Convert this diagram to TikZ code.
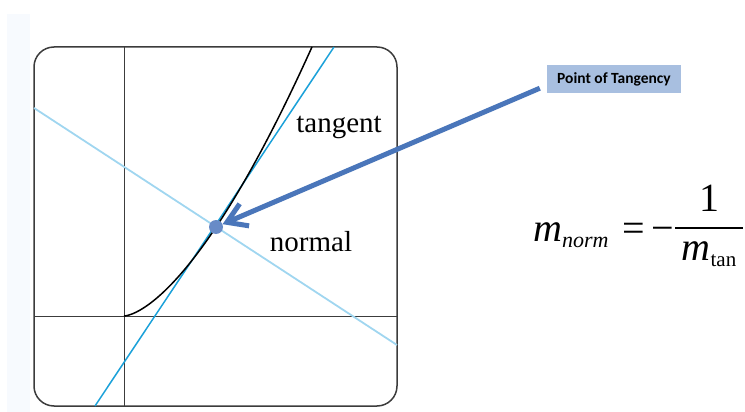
\documentclass[tikz,border=0pt]{standalone}
\usepackage{fontspec}
\setmainfont{Liberation Serif}
\newfontfamily\calibri{Carlito}
\usetikzlibrary{arrows.meta,positioning,calc}
\definecolor{tanblue}{RGB}{27,161,217}
\definecolor{normblue}{RGB}{160,214,240}
\definecolor{dotblue}{RGB}{104,139,199}
\definecolor{arrowblue}{RGB}{74,118,186}
\definecolor{boxblue}{RGB}{168,191,224}
\definecolor{stripgray}{RGB}{247,250,254}
\definecolor{framegray}{RGB}{60,60,60}

\begin{document}
\begin{tikzpicture}[
    x=1pt, y=-1pt,
    frame/.style={draw=framegray, line width=1.5pt, rounded corners=20pt},
    axis/.style={draw=framegray, line width=1pt},
    lbl/.style={font=\fontsize{29}{32}\selectfont, inner sep=0pt},
    frmla/.style={font=\fontsize{40}{44}\selectfont, inner sep=0pt, anchor=base west},
    ptbox/.style={fill=boxblue, minimum width=134pt, minimum height=28pt, inner sep=0pt,
                  font=\calibri\bfseries\fontsize{15.5}{18}\selectfont},
    ptdot/.style={circle, fill=dotblue, minimum size=14pt, inner sep=0pt},
    callout/.style={draw=arrowblue, line width=5pt, -{Straight Barb[length=19pt,width=24pt]}}
]
\useasboundingbox (0,0) rectangle (745,412);
\fill[stripgray] (7,14) rectangle (30,412);

% graph box and axes
\draw[frame] (34,47) rectangle (397,406);
\draw[axis] (124,47) -- (124,406);
\draw[axis] (34,316) -- (397,316);

% normal and tangent lines
\draw[normblue, line width=1.8pt] (34,108) -- (397,345);
\draw[tanblue, line width=1.5pt] (95,406) -- (334,47);

% the curve
\draw[black, line width=1.5pt] (124,316) -- plot[domain=0.5:188, samples=80, smooth] ({124+\x},{316-0.08035*\x^1.55});

\node[ptdot] (pt) at (216,227) {};
\node[lbl] (tanlbl) at (339,127) {tangent};
\node[lbl] (normlbl) at (311,242) {normal};

% label and arrow
\node[ptbox] (ptlabel) at (614,79) {Point of Tangency};
\draw[callout] ([shift={(-7pt,5pt)}]ptlabel.south west) -- (pt);

% formula
\node[frmla] (mnorm) at (533,241) {\itshape m\raisebox{-6pt}{\fontsize{22}{24}\selectfont norm}};
\node[frmla] (eqsign) at (622,241) {=\,−};
\node[frmla, anchor=base] (one) at (709,211) {1};
\node[frmla, anchor=base] (mtan) at (709,260) {\itshape m\raisebox{-6pt}{\fontsize{21}{24}\selectfont\upshape tan}};
\coordinate (barL) at (675,228);
\coordinate (barR) at (743,228);
\draw[line width=2pt] (barL) -- (barR);
\end{tikzpicture}
\end{document}
